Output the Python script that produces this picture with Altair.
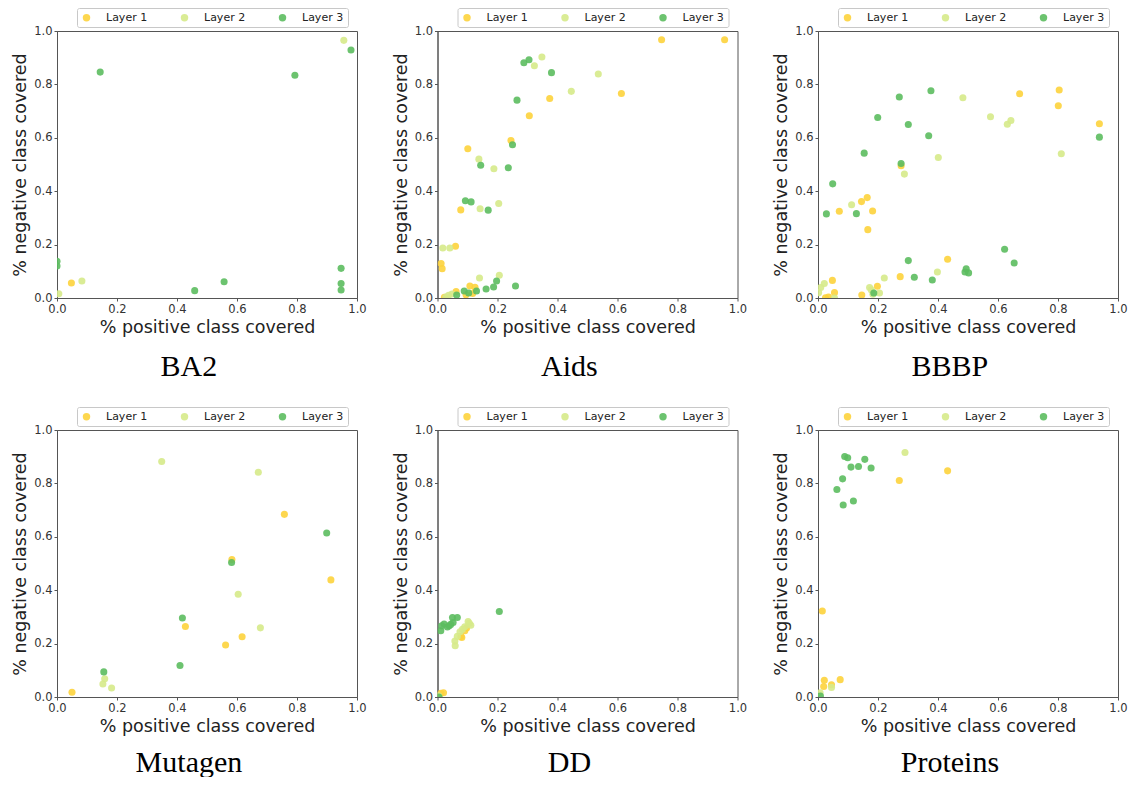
import altair as alt
import pandas as pd

LAYERS = ["Layer 1", "Layer 2", "Layer 3"]
COLORS = ["#fdd33c", "#d6ea89", "#5cbc5f"]
TICKS = [0.0, 0.2, 0.4, 0.6, 0.8, 1.0]
DATASETS = ["BA2", "Aids", "BBBP", "Mutagen", "DD", "Proteins"]

# ---- BA2 ----
ba2_l1_x = [0.048]
ba2_l1_y = [0.056]
ba2_l2_x = [0.006, 0.083, 0.956]
ba2_l2_y = [0.016, 0.064, 0.965]
ba2_l3_x = [0.144, 0.793, 0.98, 0.0, 0.0, 0.459, 0.557, 0.947, 0.947, 0.947]
ba2_l3_y = [0.846, 0.834, 0.929, 0.1375, 0.12, 0.0275, 0.061, 0.111, 0.054, 0.03]

# ---- Aids ----
aids_l1_x = [0.747, 0.957, 0.613, 0.374, 0.306, 0.245, 0.101, 0.0775, 0.06, 0.012, 0.0155,
             0.108, 0.125, 0.117, 0.095, 0.062, 0.023]
aids_l1_y = [0.9675, 0.9675, 0.766, 0.7475, 0.6825, 0.59, 0.559, 0.33, 0.194, 0.129, 0.11,
             0.045, 0.04, 0.017, 0.012, 0.024, 0.003]
aids_l2_x = [0.0177, 0.041, 0.138, 0.188, 0.142, 0.204, 0.14, 0.206, 0.323, 0.348, 0.446, 0.536,
             0.037, 0.048, 0.028]
aids_l2_y = [0.1875, 0.1875, 0.52, 0.484, 0.334, 0.354, 0.075, 0.085, 0.87, 0.9025, 0.774, 0.839,
             0.01, 0.015, 0.004]
aids_l3_x = [0.288, 0.305, 0.38, 0.265, 0.25, 0.144, 0.236, 0.093, 0.112, 0.169, 0.064, 0.089,
             0.104, 0.13, 0.162, 0.187, 0.197, 0.26]
aids_l3_y = [0.881, 0.8925, 0.844, 0.741, 0.574, 0.4975, 0.4875, 0.364, 0.36, 0.329, 0.011, 0.026,
             0.019, 0.026, 0.034, 0.041, 0.064, 0.045]

# ---- BBBP ----
bbbp_l1_x = [0.938, 0.804, 0.801, 0.672, 0.277, 0.071, 0.145, 0.164, 0.182, 0.166, 0.432, 0.274,
             0.198, 0.146, 0.048, 0.055, 0.025, 0.035]
bbbp_l1_y = [0.6525, 0.779, 0.72, 0.765, 0.495, 0.325, 0.361, 0.376, 0.326, 0.256, 0.145, 0.08,
             0.044, 0.011, 0.066, 0.02, 0.001, 0.004]
bbbp_l2_x = [0.483, 0.575, 0.631, 0.643, 0.811, 0.401, 0.288, 0.112, 0.398, 0.221, 0.172, 0.178,
             0.205, 0.183, 0.009, 0.021, 0.055, 0.002]
bbbp_l2_y = [0.75, 0.679, 0.651, 0.665, 0.54, 0.526, 0.464, 0.349, 0.0975, 0.075, 0.039, 0.03,
             0.019, 0.014, 0.039, 0.054, 0.0, 0.02]
bbbp_l3_x = [0.3765, 0.271, 0.199, 0.301, 0.369, 0.938, 0.277, 0.154, 0.049, 0.028, 0.128, 0.622,
             0.654, 0.301, 0.321, 0.381, 0.494, 0.49, 0.502, 0.186]
bbbp_l3_y = [0.776, 0.7525, 0.676, 0.65, 0.6075, 0.6025, 0.504, 0.5425, 0.4275, 0.315, 0.316, 0.1825,
             0.131, 0.14, 0.0775, 0.0675, 0.109, 0.0975, 0.094, 0.019]

# ---- Mutagen ----
mut_l1_x = [0.05, 0.428, 0.562, 0.583, 0.617, 0.758, 0.913]
mut_l1_y = [0.0175, 0.264, 0.195, 0.515, 0.2255, 0.684, 0.4386]
mut_l2_x = [0.349, 0.671, 0.604, 0.678, 0.159, 0.153, 0.182]
mut_l2_y = [0.882, 0.842, 0.385, 0.259, 0.068, 0.049, 0.034]
mut_l3_x = [0.899, 0.582, 0.418, 0.41, 0.156]
mut_l3_y = [0.614, 0.504, 0.296, 0.118, 0.094]

# ---- DD ----
dd_l1_x = [0.078, 0.091, 0.097, 0.081, 0.02, 0.011]
dd_l1_y = [0.227, 0.248, 0.258, 0.223, 0.016, 0.014]
dd_l2_x = [0.059, 0.058, 0.066, 0.075, 0.083, 0.091, 0.102, 0.111, 0.106, 0.004]
dd_l2_y = [0.192, 0.21, 0.227, 0.244, 0.254, 0.263, 0.283, 0.269, 0.276, 0.005]
dd_l3_x = [0.206, 0.011, 0.014, 0.022, 0.033, 0.039, 0.044, 0.052, 0.05, 0.066, 0.005]
dd_l3_y = [0.32, 0.248, 0.267, 0.273, 0.262, 0.267, 0.272, 0.279, 0.298, 0.298, 0.0]

# ---- Proteins ----
prot_l1_x = [0.0144, 0.021, 0.019, 0.045, 0.074, 0.271, 0.432]
prot_l1_y = [0.322, 0.0627, 0.039, 0.046, 0.065, 0.811, 0.847]
prot_l2_x = [0.29, 0.045, 0.007]
prot_l2_y = [0.916, 0.036, 0.016]
prot_l3_x = [0.089, 0.099, 0.156, 0.11, 0.135, 0.177, 0.082, 0.063, 0.084, 0.118, 0.008]
prot_l3_y = [0.901, 0.896, 0.89, 0.861, 0.863, 0.858, 0.817, 0.777, 0.719, 0.734, 0.004]

PANELS = [
    (ba2_l1_x, ba2_l1_y, ba2_l2_x, ba2_l2_y, ba2_l3_x, ba2_l3_y),
    (aids_l1_x, aids_l1_y, aids_l2_x, aids_l2_y, aids_l3_x, aids_l3_y),
    (bbbp_l1_x, bbbp_l1_y, bbbp_l2_x, bbbp_l2_y, bbbp_l3_x, bbbp_l3_y),
    (mut_l1_x, mut_l1_y, mut_l2_x, mut_l2_y, mut_l3_x, mut_l3_y),
    (dd_l1_x, dd_l1_y, dd_l2_x, dd_l2_y, dd_l3_x, dd_l3_y),
    (prot_l1_x, prot_l1_y, prot_l2_x, prot_l2_y, prot_l3_x, prot_l3_y),
]


def make_df(p):
    rows = []
    for i, layer in enumerate(LAYERS):
        xs, ys = p[2 * i], p[2 * i + 1]
        for a, b in zip(xs, ys):
            rows.append({"x": a, "y": b, "layer": layer, "ord": i})
    return pd.DataFrame(rows)


def panel(name, p, title_offset):
    df = make_df(p)
    return (
        alt.Chart(df)
        .mark_circle(size=50, opacity=0.9, clip=True)
        .encode(
            x=alt.X(
                "x:Q",
                scale=alt.Scale(domain=[0, 1], nice=False, zero=False),
                axis=alt.Axis(title="% positive class covered", values=TICKS, format=".1f"),
            ),
            y=alt.Y(
                "y:Q",
                scale=alt.Scale(domain=[0, 1], nice=False, zero=False),
                axis=alt.Axis(title="% negative class covered", values=TICKS, format=".1f"),
            ),
            color=alt.Color(
                "layer:N",
                scale=alt.Scale(domain=LAYERS, range=COLORS),
                legend=alt.Legend(
                    title=None,
                    orient="none",
                    legendX=20,
                    legendY=-23,
                    direction="horizontal",
                    fillColor="white",
                    strokeColor="#c8c8c8",
                    padding=4,
                    cornerRadius=2,
                    symbolType="circle",
                    symbolSize=55,
                    symbolStrokeWidth=0,
                    symbolOpacity=0.9,
                    labelFont="DejaVu Sans",
                    labelFontSize=11,
                    labelColor="#222222",
                    labelOffset=14,
                    columnPadding=31,
                ),
            ),
            order=alt.Order("ord:Q"),
        )
        .properties(
            width=300,
            height=267,
            title=alt.TitleParams(
                text=name,
                orient="bottom",
                anchor="middle",
                frame="bounds",
                font="Liberation Serif",
                fontSize=30,
                fontWeight="normal",
                color="black",
                offset=title_offset,
            ),
        )
    )


OFFSETS = [16, 16, 16, 13, 13, 13]
charts = [panel(n, p, o) for n, p, o in zip(DATASETS, PANELS, OFFSETS)]

chart = (
    alt.concat(*charts, columns=3, spacing={"row": 132, "column": 80.5}, bounds="flush")
    .resolve_scale(color="independent")
    .resolve_legend(color="independent")
    .properties(padding={"top": -1, "left": 3, "right": 0, "bottom": -2}, background="white")
    .configure_view(stroke="#555555", strokeWidth=1)
    .configure_axis(
        grid=False,
        domainColor="#555555",
        tickColor="#555555",
        tickSize=3,
        labelFont="DejaVu Sans",
        labelFontSize=11.5,
        labelColor="#333333",
        labelPadding=2,
        labelFlush=False,
        labelOverlap=False,
        titleFont="DejaVu Sans",
        titleFontSize=17.5,
        titleFontWeight="normal",
        titleColor="#222222",
        titlePadding=4,
    )
)

chart.save("out.html", embed_options={"renderer": "svg", "actions": False})
